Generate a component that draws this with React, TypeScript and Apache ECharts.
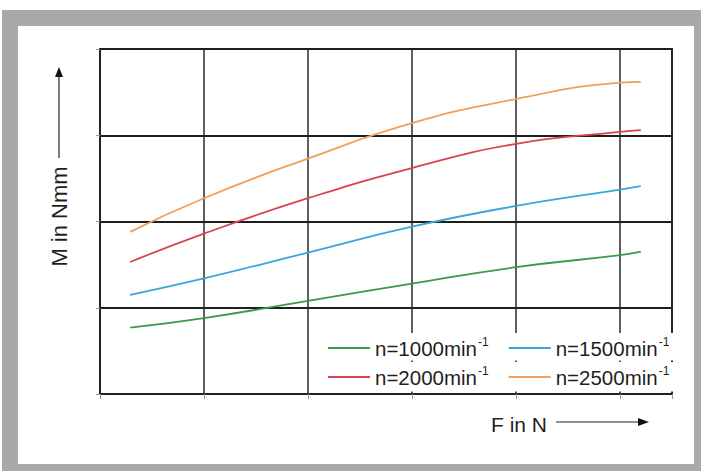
import React, { useEffect, useRef } from "react";
import * as echarts from "echarts";

const xValues = [0.29, 1, 2, 3, 4, 5, 5.2];
const n1000 = [0.77, 0.88, 1.08, 1.28, 1.47, 1.61, 1.65];
const n1500 = [1.15, 1.34, 1.64, 1.94, 2.18, 2.37, 2.41];
const n2000 = [1.53, 1.86, 2.27, 2.62, 2.9, 3.04, 3.06];
const n2500 = [1.88, 2.27, 2.73, 3.14, 3.42, 3.61, 3.62];
const seriesNames = ["n=1000", "n=1500", "n=2000", "n=2500"];
const seriesColors = ["#3b9a4b", "#3ba5dc", "#d9434f", "#f0a05a"];
const xAxisTitle = "F in N";
const yAxisTitle = "M in Nmm";

const pairs = (ys: number[]) => xValues.map((x, i) => [x, ys[i]]);

export default function App() {
  const ref = useRef<HTMLDivElement>(null);
  useEffect(() => {
    if (!ref.current) return;
    const chart = echarts.init(ref.current, undefined, { renderer: "svg" });
    const font = "'Liberation Sans', Arial, Helvetica, sans-serif";
    const txt = "#1f1f1f";
    const legendText = {
      color: txt,
      fontFamily: font,
      rich: {
        n: { fontSize: 20.5, fontFamily: font, color: txt, lineHeight: 24, verticalAlign: "middle" },
        s: { fontSize: 12, fontFamily: font, color: txt, lineHeight: 12, verticalAlign: "top", padding: [0, 0, 0, 1] },
      },
    };
    const legendFmt = (name: string) => `{n|${name}min}{s|-1}`;
    const allData = [n1000, n1500, n2000, n2500];
    chart.setOption({
      animation: false,
      grid: {
        left: 100,
        right: 29,
        top: 49,
        bottom: 77,
        show: true,
        borderColor: "#222",
        borderWidth: 2,
        backgroundColor: "transparent",
      },
      xAxis: {
        type: "value",
        min: 0,
        max: 5.5,
        interval: 1,
        axisLabel: { show: false },
        axisLine: { show: true, lineStyle: { color: "#222", width: 2 } },
        axisTick: { show: true, length: 5, lineStyle: { color: "#999", width: 1 } },
        splitLine: { show: true, lineStyle: { color: "#2a2a2a", width: 1.5 } },
      },
      yAxis: {
        type: "value",
        min: 0,
        max: 4,
        interval: 1,
        axisLabel: { show: false },
        axisLine: { show: true, lineStyle: { color: "#222", width: 2 } },
        axisTick: { show: true, length: 4, lineStyle: { color: "#999", width: 1 } },
        splitLine: { show: true, lineStyle: { color: "#1e1e1e", width: 2 } },
      },
      legend: [
        {
          data: [seriesNames[0], seriesNames[1]],
          left: 318,
          top: 333,
          orient: "horizontal",
          icon: "rect",
          itemWidth: 42,
          itemHeight: 2,
          itemGap: 20,
          padding: [3, 4, 2, 10],
          backgroundColor: "#ffffff",
          formatter: legendFmt,
          textStyle: legendText,
        },
        {
          data: [seriesNames[2], seriesNames[3]],
          left: 318,
          top: 362,
          orient: "horizontal",
          icon: "rect",
          itemWidth: 42,
          itemHeight: 2,
          itemGap: 20,
          padding: [3, 4, 4, 10],
          backgroundColor: "#ffffff",
          formatter: legendFmt,
          textStyle: legendText,
        },
      ],
      series: seriesNames.map((name, i) => ({
        name,
        type: "line",
        smooth: true,
        showSymbol: false,
        symbol: "none",
        data: pairs(allData[i]),
        color: seriesColors[i],
        lineStyle: { color: seriesColors[i], width: 1.8 },
        z: 2,
      })),
      graphic: [
        {
          type: "text",
          x: 59.5,
          y: 216.5,
          rotation: Math.PI / 2,
          style: {
            text: yAxisTitle,
            fontSize: 22,
            fontFamily: font,
            fill: txt,
            align: "center",
            verticalAlign: "middle",
          },
        },
        {
          type: "line",
          shape: { x1: 59, y1: 158, x2: 59, y2: 75 },
          style: { stroke: "#222", lineWidth: 1.2 },
        },
        {
          type: "polygon",
          shape: { points: [[59, 67], [55, 77], [63, 77]] },
          style: { fill: "#111" },
        },
        {
          type: "text",
          x: 491,
          y: 424,
          style: {
            text: xAxisTitle,
            fontSize: 21,
            fontFamily: font,
            fill: txt,
            align: "left",
            verticalAlign: "middle",
          },
        },
        {
          type: "line",
          shape: { x1: 556, y1: 422, x2: 640, y2: 422 },
          style: { stroke: "#222", lineWidth: 1.2 },
        },
        {
          type: "polygon",
          shape: { points: [[649, 422], [638, 418], [638, 426]] },
          style: { fill: "#111" },
        },
      ],
    });
    return () => chart.dispose();
  }, []);

  return (
    <div style={{ position: "fixed", left: 0, top: 0, width: 701, height: 471, background: "#ffffff" }}>
      <div style={{ position: "absolute", left: 2, top: 10, width: 699, height: 461, background: "#a9a9a9" }} />
      <div style={{ position: "absolute", left: 18, top: 26, width: 676, height: 438, background: "#ffffff" }} />
      <div ref={ref} style={{ position: "absolute", left: 0, top: 0, width: 701, height: 471 }} />
    </div>
  );
}
